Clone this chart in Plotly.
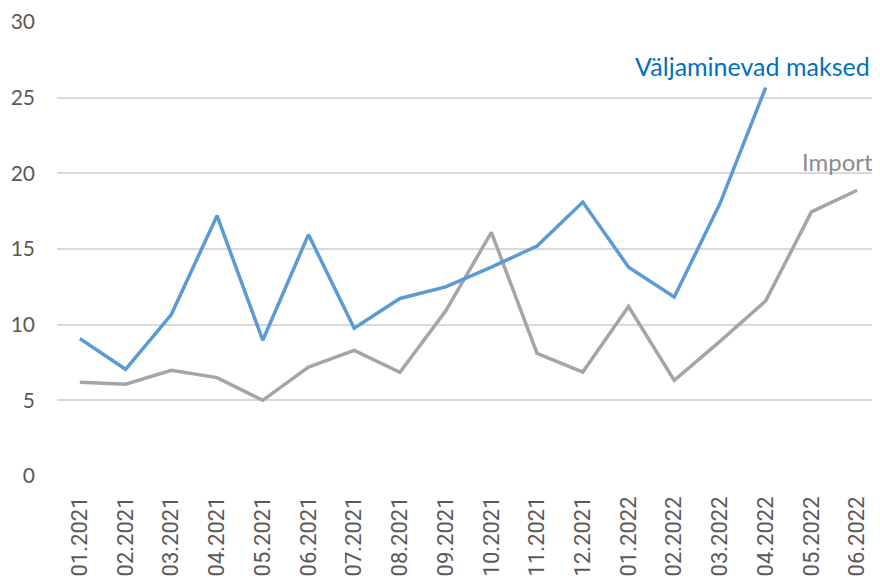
import plotly.graph_objects as go

months = ["01.2021", "02.2021", "03.2021", "04.2021", "05.2021", "06.2021",
          "07.2021", "08.2021", "09.2021", "10.2021", "11.2021", "12.2021",
          "01.2022", "02.2022", "03.2022", "04.2022", "05.2022", "06.2022"]

valjaminevad = [9.08, 7.05, 10.67, 17.2, 8.97, 15.95, 9.76, 11.73, 12.5, 13.8,
                15.2, 18.1, 13.8, 11.83, 18.0, 25.67]
import_vals = [6.19, 6.06, 6.99, 6.5, 5.0, 7.2, 8.3, 6.85, 10.9, 16.1,
               8.1, 6.87, 11.2, 6.32, 8.9, 11.57, 17.45, 18.88]

series_names = ["Väljaminevad maksed", "Import"]
yticks = [0, 5, 10, 15, 20, 25, 30]

fig = go.Figure()
fig.add_trace(go.Scatter(x=months, y=import_vals, mode="lines",
                         line=dict(color="#A5A5A5", width=3.5), name=series_names[1]))
fig.add_trace(go.Scatter(x=months[:len(valjaminevad)], y=valjaminevad, mode="lines",
                         line=dict(color="#5B9BD5", width=3.5), name=series_names[0]))

fig.add_annotation(x=len(valjaminevad) - 1, y=valjaminevad[-1], text=series_names[0],
                   showarrow=False, xanchor="right", yanchor="bottom", xshift=106, yshift=5,
                   font=dict(family="Lato", size=25, color="#0070C0"))
fig.add_annotation(x=len(import_vals) - 1, y=import_vals[-1], text=series_names[1],
                   showarrow=False, xanchor="right", yanchor="bottom", xshift=18, yshift=12,
                   font=dict(family="Lato", size=24, color="#8C8C8C"))

# page body has an 8px margin; the figure is sized to fill the rest of the window
fig.update_layout(
    width=872, height=573,
    margin=dict(l=49, r=0, t=14, b=105),
    plot_bgcolor="white", paper_bgcolor="white",
    showlegend=False,
)
fig.update_xaxes(type="category", range=[-0.5, len(months) - 0.5], tickangle=-90,
                 showgrid=False, showline=False, ticks="", ticklabelstandoff=15,
                 automargin=False,
                 tickfont=dict(family="Roboto", size=22, color="#595959"))
fig.update_yaxes(range=[0, 30], tickvals=yticks, showgrid=True, gridcolor="#D9D9D9",
                 gridwidth=1.5, zeroline=False, showline=False, ticks="",
                 ticklabelstandoff=21, automargin=False,
                 tickfont=dict(family="Lato", size=21, color="#595959"))

fig.write_html("out.html")
